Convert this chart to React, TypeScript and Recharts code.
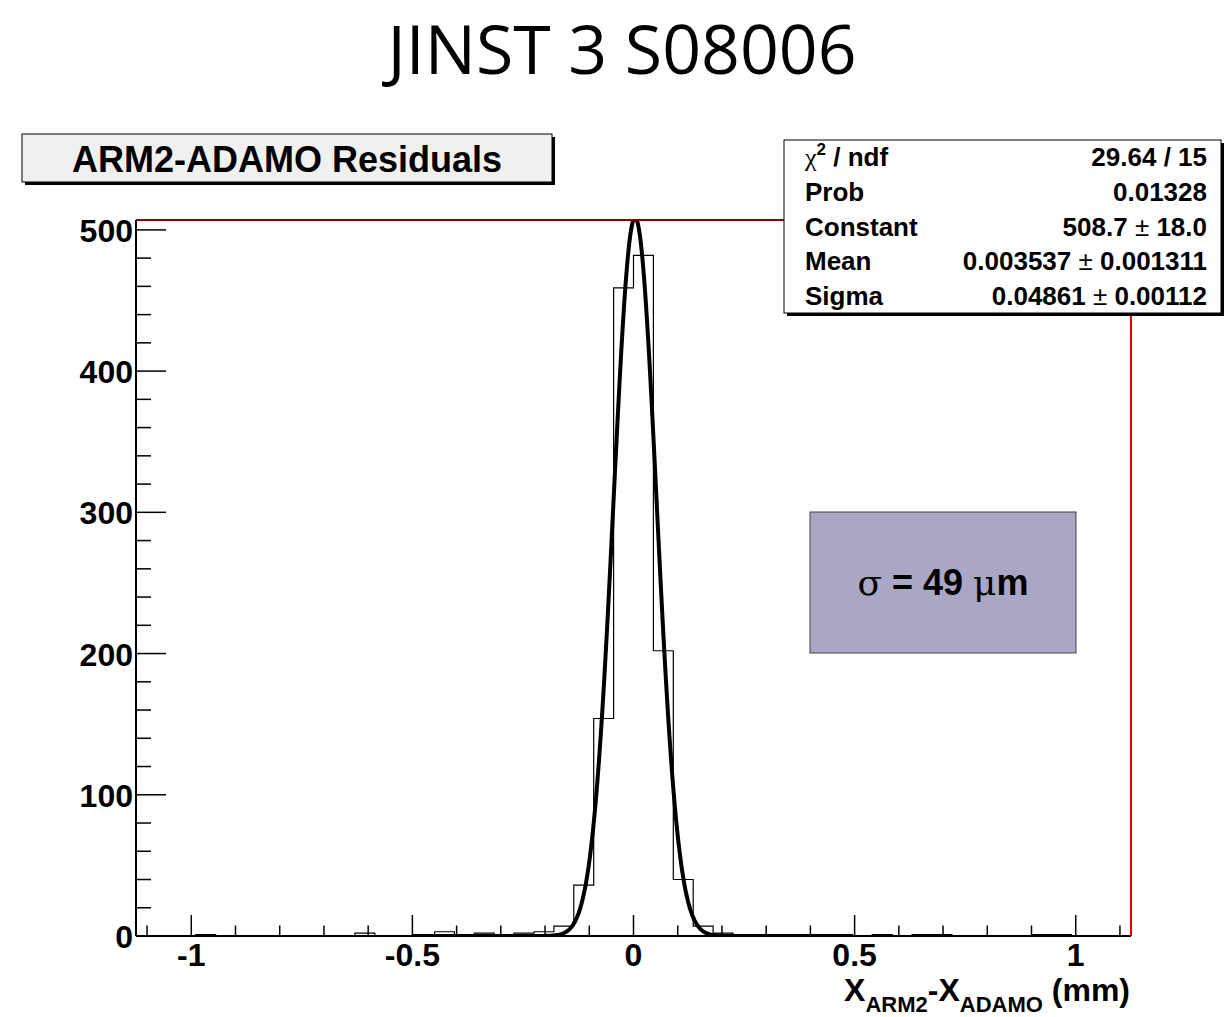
import React from "react";
import { ComposedChart, Line, XAxis, YAxis, ReferenceLine } from "recharts";

// residual histogram: 50 bins over [-1.125, 1.125] mm
const binLow = -1.125;
const binWidth = 0.045;
const binCounts = [
  0, 0, 0, 1, 0, 0, 0, 0, 0, 0,
  0, 2, 0, 0, 1, 3, 1, 2, 1, 2,
  3, 7, 36, 154, 459, 482, 202, 40, 7, 2,
  1, 1, 1, 1, 1, 1, 0, 1, 0, 1,
  1, 0, 0, 0, 0, 1, 1, 0, 0, 0,
];

// gaus fit result
const fitConstant = 508.7;
const fitMean = 0.003537;
const fitSigma = 0.04861;
const fitRange = [-0.5, 0.32];

const statLabels = ["χ2 / ndf", "Prob", "Constant", "Mean", "Sigma"];
const statValues = ["29.64 / 15", "0.01328", "508.7 ± 18.0", "0.003537 ± 0.001311", "0.04861 ± 0.00112"];

const xTicks = [
  -1.1, -1, -0.9, -0.8, -0.7, -0.6, -0.5, -0.4, -0.3, -0.2, -0.1, 0,
  0.1, 0.2, 0.3, 0.4, 0.5, 0.6, 0.7, 0.8, 0.9, 1, 1.1,
];
const xLabelTicks = [-1, -0.5, 0, 0.5, 1];
const yTicks = [
  0, 20, 40, 60, 80, 100, 120, 140, 160, 180, 200, 220, 240,
  260, 280, 300, 320, 340, 360, 380, 400, 420, 440, 460, 480, 500,
];
const yLabelTicks = [0, 100, 200, 300, 400, 500];

const W = 1225;
const H = 1017;
const PLOT = { left: 136, top: 220, right: 1131, bottom: 936 };
const Y_AXIS_W = 40;
const X_AXIS_H = 30;
const FONT = "'Liberation Sans', Arial, Helvetica, sans-serif";

const histData = binCounts
  .map((c, k) => ({ x: binLow + k * binWidth, y: c }))
  .concat([{ x: binLow + binCounts.length * binWidth, y: binCounts[binCounts.length - 1] }]);

const fitData: { x: number; y: number }[] = [];
for (let x = fitRange[0]; x <= fitRange[1] + 1e-9; x += 0.002) {
  const u = (x - fitMean) / fitSigma;
  fitData.push({ x, y: fitConstant * Math.exp(-0.5 * u * u) });
}

const isLabel = (list: number[], v: number) => list.some((t) => Math.abs(t - v) < 1e-6);

// ticks point into the frame, root style
const XTick = (props: any) => {
  const { x, payload } = props;
  const v = payload.value;
  const major = isLabel(xLabelTicks, v);
  const len = major ? 21 : 10.5;
  return (
    <g>
      <line x1={x} x2={x} y1={PLOT.bottom} y2={PLOT.bottom - len} stroke="#000" strokeWidth={1.5} />
      {major && (
        <text x={x} y={966} textAnchor="middle" fontSize={32} fontWeight="bold" fontFamily={FONT} fill="#000">
          {String(Math.round(v * 10) / 10)}
        </text>
      )}
    </g>
  );
};

const YTick = (props: any) => {
  const { y, payload } = props;
  const v = payload.value;
  const major = isLabel(yLabelTicks, v);
  const len = major ? 30 : 15;
  return (
    <g>
      <line x1={PLOT.left} x2={PLOT.left + len} y1={y} y2={y} stroke="#000" strokeWidth={1.5} />
      {major && (
        <text x={133} y={y + 12} textAnchor="end" fontSize={32} fontWeight="bold" fontFamily={FONT} fill="#000">
          {v}
        </text>
      )}
    </g>
  );
};

// value text with a thin symbol-font "±"
const StatValue = ({ text, x, y }: { text: string; x: number; y: number }) => {
  const parts = text.split("±");
  return (
    <text x={x} y={y} textAnchor="end" fontSize={26} fontWeight="bold" fontFamily={FONT}>
      {parts.length === 1 ? (
        text
      ) : (
        <>
          <tspan>{parts[0].trim()}</tspan>
          <tspan fontWeight="normal">{" ± "}</tspan>
          <tspan>{parts[1].trim()}</tspan>
        </>
      )}
    </text>
  );
};

const StatLabel = ({ text, x, y }: { text: string; x: number; y: number }) => {
  if (text.startsWith("χ2")) {
    return (
      <text x={x} y={y} fontSize={26} fontWeight="bold" fontFamily={FONT}>
        <tspan fontWeight="normal" fontFamily="'Liberation Serif', serif">χ</tspan>
        <tspan fontSize={17} dy={-11}>2</tspan>
        <tspan dy={11}>{text.slice(2)}</tspan>
      </text>
    );
  }
  return (
    <text x={x} y={y} fontSize={26} fontWeight="bold" fontFamily={FONT}>
      {text}
    </text>
  );
};

const Overlay = () => {
  const box = { x: 784, y: 140, w: 437, h: 173 };
  const rowH = box.h / statLabels.length;
  return (
    <svg width={W} height={H} style={{ position: "absolute", left: 0, top: 0, pointerEvents: "none" }}>
      <text x={622} y={74} textAnchor="middle" fontSize={68} fontFamily="'Open Sans', sans-serif" fill="#000">
        JINST 3 S08006
      </text>

      {/* histogram title */}
      <rect x={25} y={137} width={530} height={48} fill="#000" />
      <rect x={22} y={134} width={530} height={48} fill="#f0f0f0" stroke="#000" strokeWidth={1} />
      <text x={287} y={172} textAnchor="middle" fontSize={36} fontWeight="bold" fontFamily={FONT}>
        ARM2-ADAMO Residuals
      </text>

      {/* fit statistics */}
      <rect x={box.x + 3} y={box.y + 3} width={box.w} height={box.h} fill="#000" />
      <rect x={box.x} y={box.y} width={box.w} height={box.h} fill="#fff" stroke="#000" strokeWidth={1} />
      {statLabels.map((l, i) => (
        <StatLabel key={l} text={l} x={805} y={box.y + rowH * (i + 0.5) + 9} />
      ))}
      {statValues.map((v, i) => (
        <StatValue key={v} text={v} x={1207} y={box.y + rowH * (i + 0.5) + 9} />
      ))}

      {/* resolution note */}
      <rect x={810} y={512} width={266} height={141} fill="#aaa7c4" stroke="#444" strokeWidth={1} />
      <text x={943} y={595} textAnchor="middle" fontSize={36} fontWeight="bold" fontFamily={FONT}>
        <tspan fontWeight="normal" fontFamily="'DejaVu Serif', serif">σ</tspan>
        <tspan>{" = 49 "}</tspan>
        <tspan fontWeight="normal" fontFamily="'DejaVu Serif', serif">μ</tspan>
        <tspan>m</tspan>
      </text>

      {/* x axis title */}
      <text x={1130} y={1001} textAnchor="end" fontSize={32} fontWeight="bold" fontFamily={FONT}>
        <tspan>X</tspan>
        <tspan fontSize={22} dy={11}>ARM2</tspan>
        <tspan dy={-11}>-X</tspan>
        <tspan fontSize={22} dy={11}>ADAMO</tspan>
        <tspan dy={-11}> (mm)</tspan>
      </text>
    </svg>
  );
};

export default function App() {
  return (
    <div style={{ position: "absolute", left: 0, top: 0, width: W, height: H, background: "#fff" }}>
      <ComposedChart
        width={W}
        height={H}
        margin={{
          top: PLOT.top,
          left: PLOT.left - Y_AXIS_W,
          right: W - PLOT.right,
          bottom: H - PLOT.bottom - X_AXIS_H,
        }}
      >
        <XAxis
          dataKey="x"
          type="number"
          domain={[binLow, binLow + binCounts.length * binWidth]}
          allowDataOverflow
          ticks={xTicks}
          interval={0}
          height={X_AXIS_H}
          tickLine={false}
          tick={(p: any) => <XTick {...p} />}
          axisLine={{ stroke: "#000", strokeWidth: 2 }}
        />
        <YAxis
          type="number"
          domain={[0, 507]}
          allowDataOverflow
          ticks={yTicks}
          interval={0}
          width={Y_AXIS_W}
          tickLine={false}
          tick={(p: any) => <YTick {...p} />}
          axisLine={{ stroke: "#000", strokeWidth: 2 }}
        />
        <Line
          data={histData}
          dataKey="y"
          type="stepAfter"
          stroke="#000"
          strokeWidth={1.2}
          dot={false}
          isAnimationActive={false}
        />
        <Line
          data={fitData}
          dataKey="y"
          type="linear"
          stroke="#000"
          strokeWidth={4}
          dot={false}
          isAnimationActive={false}
        />
        <ReferenceLine y={507} stroke="#8a0000" strokeWidth={2} />
        <ReferenceLine x={binLow + binCounts.length * binWidth} stroke="#e00000" strokeWidth={2} />
        <ReferenceLine y={0} stroke="#e00000" strokeWidth={1.2} />
      </ComposedChart>
      <Overlay />
    </div>
  );
}
